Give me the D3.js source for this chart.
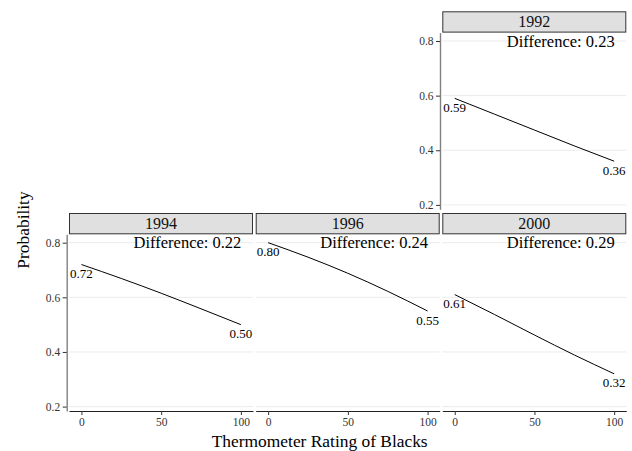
<!DOCTYPE html>
<html>
<head>
<meta charset="utf-8">
<script src="https://cdn.jsdelivr.net/npm/d3@7/dist/d3.min.js"></script>
<style>
  body { margin: 0; background: #fff; }
  svg { display: block; }
  svg text { font-family: "Liberation Serif", "Times New Roman", Times, serif !important; }
</style>
</head>
<body>
<svg id="chart" width="632" height="451"></svg>
<script>
// ---- data ----
const years = ["1992", "1994", "1996", "2000"];
const thermo = [0, 25, 50, 75, 100];
const prob1992 = [0.59, 0.532, 0.474, 0.416, 0.36];
const prob1994 = [0.72, 0.669, 0.615, 0.558, 0.50];
const prob1996 = [0.80, 0.747, 0.688, 0.622, 0.55];
const prob2000 = [0.61, 0.537, 0.462, 0.389, 0.32];
const differences = [0.23, 0.22, 0.24, 0.29];
const xTicks = [0, 50, 100];
const yTicks = [0.2, 0.4, 0.6, 0.8];
const xTitle = "Thermometer Rating of Blacks";
const yTitle = "Probability";

const series = [prob1992, prob1994, prob1996, prob2000];

// ---- layout ----
const svg = d3.select("#chart");
const panelW = 184, panelH = 176.7, stripH = 21.3;
const colLeft = [69, 255.7, 442.3];
const rowStripTop = [11.3, 213];
// panel grid positions: [col,row]
const pos = [[2, 0], [0, 1], [1, 1], [2, 1]];

const x = d3.scaleLinear().domain([-7.8, 107.6]).range([0, panelW]);
const y = d3.scaleLinear().domain([0.1839, 0.8307]).range([panelH, 0]);

years.forEach((yr, i) => {
  const [c, r] = pos[i];
  const left = colLeft[c];
  const stripTop = rowStripTop[r];
  const top = stripTop + stripH;
  const g = svg.append("g").attr("transform", `translate(${left},${top})`);

  // gridlines
  g.selectAll("line.grid").data(yTicks).join("line")
    .attr("class", "grid")
    .attr("x1", 0).attr("x2", panelW)
    .attr("y1", d => y(d)).attr("y2", d => y(d))
    .attr("stroke", "#ebebeb").attr("stroke-width", 1);

  // line
  const pts = thermo.map((t, k) => [t, series[i][k]]);
  g.append("path")
    .datum(pts)
    .attr("d", d3.line().x(d => x(d[0])).y(d => y(d[1])).curve(d3.curveMonotoneX))
    .attr("fill", "none").attr("stroke", "#000").attr("stroke-width", 1);

  // end labels
  const first = pts[0], last = pts[pts.length - 1];
  [first, last].forEach(p => {
    g.append("text")
      .attr("x", x(p[0])).attr("y", y(p[1]) + 13.6)
      .attr("text-anchor", "middle")
      .attr("font-size", "13px")
      .attr("fill", "#000")
      .text(p[1].toFixed(2));
  });

  // difference annotation
  g.append("text")
    .attr("x", x(66.5)).attr("y", y(0.8) + 5.6)
    .attr("text-anchor", "middle")
    .attr("font-size", "16.5px")
    .attr("fill", "#000")
    .text("Difference: " + differences[i].toFixed(2));

  // strip
  const sg = svg.append("g").attr("transform", `translate(${left},${stripTop})`);
  sg.append("rect")
    .attr("x", 0.5).attr("y", 0.5)
    .attr("width", panelW - 1).attr("height", stripH - 1)
    .attr("fill", "#e0e0e0").attr("stroke", "#333").attr("stroke-width", 1);
  sg.append("text")
    .attr("x", panelW / 2).attr("y", stripH / 2 + 5.2)
    .attr("text-anchor", "middle")
    .attr("font-size", "16px")
    .attr("fill", "#111")
    .text(yr);

  // y axis where nothing is to the left
  const hasLeftNeighbor = pos.some(p => p[1] === r && p[0] === c - 1);
  if (!hasLeftNeighbor) {
    const ya = svg.append("g")
      .attr("transform", `translate(${left - 2.3},${top})`)
      .call(d3.axisLeft(y).tickValues(yTicks).tickFormat(d3.format(".1f"))
        .tickSize(4).tickSizeOuter(0).tickPadding(2.5));
    ya.attr("font-family", null);
    ya.select(".domain").attr("stroke", "#808080").attr("stroke-width", 1.4);
    ya.selectAll(".tick line").attr("stroke", "#333");
    ya.selectAll(".tick text").attr("font-size", "11.5px").attr("fill", "#333");
  }

  // x axis for bottom row
  if (r === 1) {
    const xa = svg.append("g")
      .attr("transform", `translate(${left},${top + panelH})`)
      .call(d3.axisBottom(x).tickValues(xTicks).tickFormat(d3.format("d"))
        .tickSize(4).tickSizeOuter(0).tickPadding(3));
    xa.attr("font-family", null);
    xa.select(".domain").attr("stroke", "#222").attr("stroke-width", 1);
    xa.selectAll(".tick line").attr("stroke", "#333");
    xa.selectAll(".tick text").attr("font-size", "11.5px").attr("fill", "#333");
  }
});

// axis titles
svg.append("text")
  .attr("x", 319.7).attr("y", 447)
  .attr("text-anchor", "middle")
  .attr("font-size", "17.4px")
  .attr("fill", "#000")
  .text(xTitle);

svg.append("text")
  .attr("transform", "translate(29,230) rotate(-90)")
  .attr("text-anchor", "middle")
  .attr("font-size", "17.4px")
  .attr("fill", "#000")
  .text(yTitle);
</script>
</body>
</html>
